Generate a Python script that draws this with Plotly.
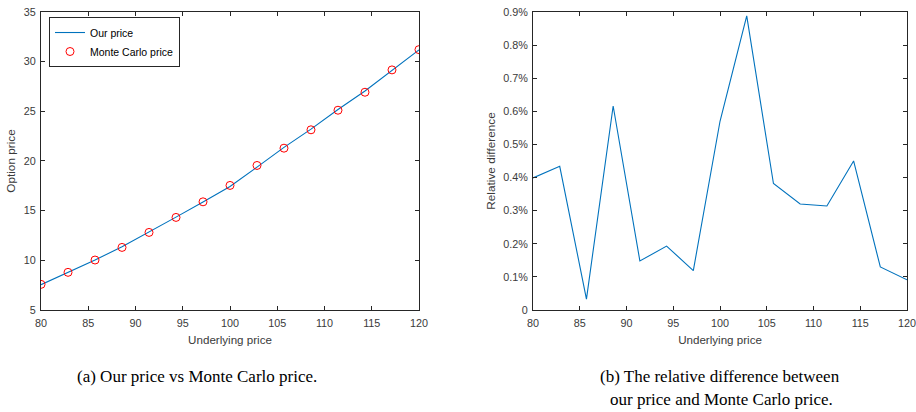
import plotly.graph_objects as go

underlying = [80, 82.857, 85.714, 88.571, 91.429, 94.286, 97.143, 100,
              102.857, 105.714, 108.571, 111.429, 114.286, 117.143, 120]
mc_price = [7.58, 8.79, 10.03, 11.30, 12.81, 14.32, 15.89, 17.54,
            19.55, 21.29, 23.14, 25.11, 26.92, 29.17, 31.21]
rel_diff = [0.399, 0.434, 0.033, 0.616, 0.148, 0.193, 0.119, 0.570,
            0.888, 0.382, 0.320, 0.314, 0.450, 0.130, 0.091]  # percent
our_price = [7.55, 8.75, 10.03, 11.37, 12.83, 14.35, 15.87, 17.44,
             19.38, 21.37, 23.21, 25.19, 27.04, 29.13, 31.18]

x_ticks = [80, 85, 90, 95, 100, 105, 110, 115, 120]
y1_ticks = [5, 10, 15, 20, 25, 30, 35]
y2_ticks = [0, 0.1, 0.2, 0.3, 0.4, 0.5, 0.6, 0.7, 0.8, 0.9]
y2_labels = ["0", "0.1%", "0.2%", "0.3%", "0.4%", "0.5%", "0.6%", "0.7%", "0.8%", "0.9%"]

BLUE = "#0072BD"
AX = "#262626"
TXT = "#3a3a3a"
SANS = "Liberation Sans, Arial, sans-serif"
SERIF = "Liberation Serif, Times New Roman, serif"

fig = go.Figure()
fig.add_trace(go.Scatter(x=underlying, y=our_price, mode="lines", name="Our price",
                         line=dict(color=BLUE, width=1.1), xaxis="x", yaxis="y"))
fig.add_trace(go.Scatter(x=underlying, y=mc_price, mode="markers", name="Monte Carlo price",
                         marker=dict(symbol="circle-open", color="#FF0000", size=8,
                                     line=dict(width=1, color="#FF0000")),
                         xaxis="x", yaxis="y"))
fig.add_trace(go.Scatter(x=underlying, y=rel_diff, mode="lines", showlegend=False,
                         line=dict(color=BLUE, width=1.1), xaxis="x2", yaxis="y2"))

common = dict(showline=True, linecolor=AX, linewidth=1, mirror="ticks", ticks="inside",
              ticklen=4, tickcolor=AX, showgrid=False, zeroline=False, automargin=False,
              ticklabeloverflow="allow",
              tickfont=dict(family=SANS, size=10.8, color=TXT))

xt = dict(text="Underlying price", font=dict(size=11.6, color=TXT), standoff=7)

fig.update_layout(
    width=916, height=412, margin=dict(l=0, r=0, t=0, b=0),
    paper_bgcolor="white", plot_bgcolor="white",
    font=dict(family=SANS, color=TXT),
    xaxis=dict(domain=[0.0448, 0.4574], range=[80, 120], tickvals=x_ticks, anchor="y",
               title=xt, ticklabelstandoff=3, **common),
    yaxis=dict(domain=[0.2476, 0.9709], range=[5, 35], tickvals=y1_ticks, anchor="x",
               title=dict(text="Option price", font=dict(size=11.8, color=TXT), standoff=5),
               ticklabelstandoff=2, **common),
    xaxis2=dict(domain=[0.5819, 0.9902], range=[80, 120], tickvals=x_ticks, anchor="y2",
                title=xt, ticklabelstandoff=3, **common),
    yaxis2=dict(domain=[0.2476, 0.9709], range=[0, 0.9], tickvals=y2_ticks, ticktext=y2_labels,
                anchor="x2",
                title=dict(text="Relative difference", font=dict(size=11.8, color=TXT), standoff=5),
                ticklabelstandoff=2, **common),
    legend=dict(x=0.0535, y=0.9587, xanchor="left", yanchor="top",
                bgcolor="white", bordercolor=AX, borderwidth=1,
                font=dict(family=SANS, size=10.5, color="#000"),
                tracegroupgap=0, itemwidth=30),
    annotations=[
        dict(text="(a) Our price vs Monte Carlo price.", x=197 / 916, y=1 - 376 / 412,
             xref="paper", yref="paper", showarrow=False, xanchor="center", yanchor="middle",
             font=dict(family=SERIF, size=17, color="#000")),
        dict(text="(b) The relative difference between", x=720 / 916, y=1 - 376 / 412,
             xref="paper", yref="paper", showarrow=False, xanchor="center", yanchor="middle",
             font=dict(family=SERIF, size=17, color="#000")),
        dict(text="our price and Monte Carlo price.", x=721 / 916, y=1 - 399 / 412,
             xref="paper", yref="paper", showarrow=False, xanchor="center", yanchor="middle",
             font=dict(family=SERIF, size=17, color="#000")),
    ],
)

fig.write_html("out.html", config={"displayModeBar": False},
               post_script="document.body.style.margin='0';document.body.style.overflow='hidden';")
